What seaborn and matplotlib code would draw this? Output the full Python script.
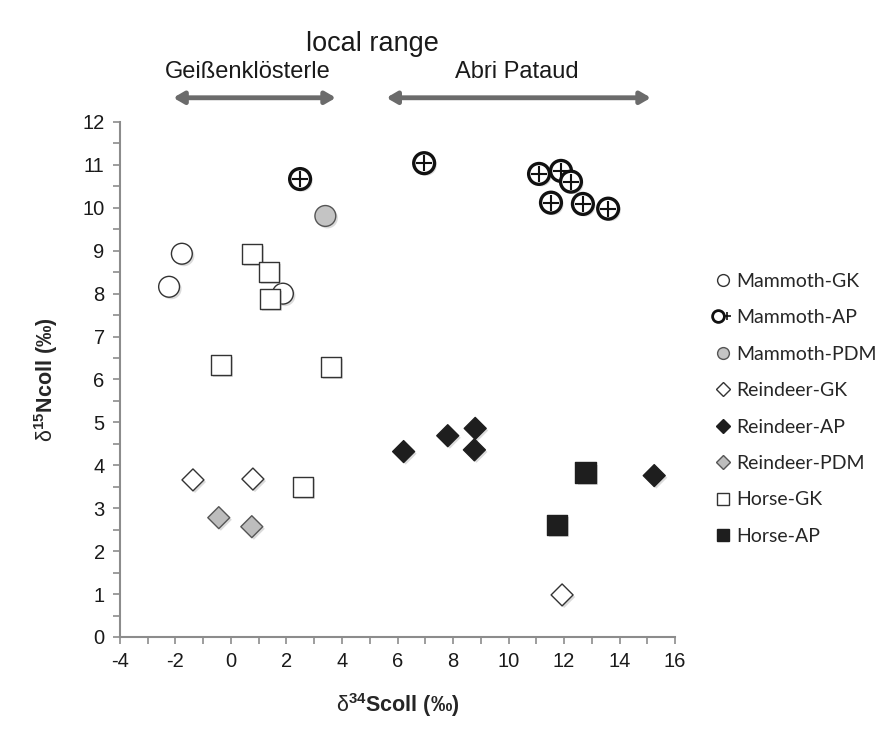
import numpy as np
import pandas as pd
import seaborn as sns
import matplotlib.pyplot as plt
import matplotlib.patheffects as pe
from matplotlib.lines import Line2D
from matplotlib.legend_handler import HandlerTuple
from matplotlib.ticker import MultipleLocator

# d34S (x) and d15N (y) values, one pair of lists per group
mammoth_gk_x = [-2.23, -1.77, 1.87]
mammoth_gk_y = [8.16, 8.93, 8.00]
mammoth_ap_x = [2.49, 6.96, 11.10, 11.89, 12.25, 11.53, 12.68, 13.59]
mammoth_ap_y = [10.67, 11.04, 10.79, 10.86, 10.61, 10.12, 10.09, 9.98]
mammoth_pdm_x = [3.40]
mammoth_pdm_y = [9.81]
reindeer_gk_x = [-1.37, 0.79, 11.93]
reindeer_gk_y = [3.66, 3.68, 0.98]
reindeer_ap_x = [6.22, 7.81, 8.80, 8.77, 15.25]
reindeer_ap_y = [4.32, 4.69, 4.86, 4.36, 3.76]
reindeer_pdm_x = [-0.44, 0.75]
reindeer_pdm_y = [2.78, 2.57]
horse_gk_x = [0.76, 1.37, 1.41, -0.36, 3.60, 2.59]
horse_gk_y = [8.93, 8.51, 7.88, 6.34, 6.29, 3.50]
horse_ap_x = [12.78, 11.74]
horse_ap_y = [3.83, 2.61]

groups = ["Mammoth-GK", "Mammoth-AP", "Mammoth-PDM", "Reindeer-GK",
          "Reindeer-AP", "Reindeer-PDM", "Horse-GK", "Horse-AP"]
xs = [mammoth_gk_x, mammoth_ap_x, mammoth_pdm_x, reindeer_gk_x,
      reindeer_ap_x, reindeer_pdm_x, horse_gk_x, horse_ap_x]
ys = [mammoth_gk_y, mammoth_ap_y, mammoth_pdm_y, reindeer_gk_y,
      reindeer_ap_y, reindeer_pdm_y, horse_gk_y, horse_ap_y]

# marker, face, edge, edge width
styles = {
    "Mammoth-GK": ("o", "white", "#333333", 1.0),
    "Mammoth-AP": ("o", "white", "#111111", 2.4),
    "Mammoth-PDM": ("o", "#c4c4c4", "#555555", 1.0),
    "Reindeer-GK": ("D", "white", "#333333", 1.0),
    "Reindeer-AP": ("D", "#1e1e1e", "#1e1e1e", 1.0),
    "Reindeer-PDM": ("D", "#bdbdbd", "#555555", 1.0),
    "Horse-GK": ("s", "white", "#333333", 1.0),
    "Horse-AP": ("s", "#1e1e1e", "#1e1e1e", 1.0),
}
sizes = {"o": 225, "D": 125, "s": 215}

df = pd.concat([pd.DataFrame({"d34S": x, "d15N": y, "group": g})
                for g, x, y in zip(groups, xs, ys)], ignore_index=True)

sns.set_style("white")
plt.rcParams["font.family"] = ["Liberation Sans", "DejaVu Sans"]
plt.rcParams["axes.unicode_minus"] = False
plt.rcParams["mathtext.fontset"] = "custom"
plt.rcParams["mathtext.rm"] = "Liberation Sans"
plt.rcParams["mathtext.bf"] = "Liberation Sans:bold"

fig = plt.figure(figsize=(8.86, 7.37), dpi=100)
ax = fig.add_axes([0.1354, 0.1357, 0.6265, 0.6988])

shadow = [pe.SimplePatchShadow(offset=(1.5, -1.5), shadow_rgbFace="#999999", alpha=0.35), pe.Normal()]

for g in groups:
    m, fc, ec, lw = styles[g]
    sub = df[df["group"] == g]
    sns.scatterplot(data=sub, x="d34S", y="d15N", marker=m, s=sizes[m],
                    color=fc, edgecolor=ec, linewidth=lw, ax=ax, zorder=3,
                    legend=False)
    ax.collections[-1].set_path_effects(shadow)
    if g == "Mammoth-AP":
        sns.scatterplot(data=sub, x="d34S", y="d15N", marker="+", s=120,
                        color="#111111", linewidth=1.5, ax=ax, zorder=4,
                        legend=False)

ax.set_xlim(-4, 16)
ax.set_ylim(0, 12)
ax.xaxis.set_major_locator(MultipleLocator(2))
ax.xaxis.set_minor_locator(MultipleLocator(1))
ax.yaxis.set_major_locator(MultipleLocator(1))
ax.yaxis.set_minor_locator(MultipleLocator(0.5))
for s in ["top", "right"]:
    ax.spines[s].set_visible(False)
for s in ["left", "bottom"]:
    ax.spines[s].set_color("#8c8c8c")
    ax.spines[s].set_linewidth(1.5)
ax.tick_params(which="both", direction="out", length=5, width=1.2,
               color="#8c8c8c", bottom=True, left=True)
ax.tick_params(which="major", labelsize=14.5, labelcolor="#1a1a1a", pad=6)

ax.set_xlabel(r"$\mathrm{δ}^{\mathbf{34}}$" + "Scoll (‰)", fontsize=15.5,
              fontweight="bold", labelpad=14)
ax.set_ylabel(r"$\mathrm{δ}^{\mathbf{15}}$" + "Ncoll (‰)", fontsize=15.5,
              fontweight="bold", labelpad=16)

# sampling-site ranges drawn above the plot
tr = ax.get_xaxis_transform()
arrow_kw = dict(arrowstyle="<|-|>,head_length=0.6,head_width=0.35",
                color="#6b6b6b", lw=3.5, shrinkA=0, shrinkB=0)
ax.annotate("", xy=(-2.08, 1.047), xytext=(3.78, 1.047), xycoords=tr,
            textcoords=tr, arrowprops=arrow_kw, annotation_clip=False)
ax.annotate("", xy=(5.6, 1.047), xytext=(15.13, 1.047), xycoords=tr,
            textcoords=tr, arrowprops=arrow_kw, annotation_clip=False)
ax.text(0.6, 1.098, "Geißenklösterle", transform=tr, ha="center",
        va="center", fontsize=17, color="#1a1a1a")
ax.text(10.3, 1.098, "Abri Pataud", transform=tr, ha="center",
        va="center", fontsize=17, color="#1a1a1a")
ax.text(5.1, 1.152, "local range", transform=tr, ha="center",
        va="center", fontsize=19.5, color="#1a1a1a")

# legend
handles = []
for g in groups:
    m, fc, ec, lw = styles[g]
    ms = 8.5 if m != "D" else 7.5
    h = Line2D([], [], linestyle="none", marker=m, markersize=ms,
               markerfacecolor=fc, markeredgecolor=ec,
               markeredgewidth=min(lw, 2.0))
    if g == "Mammoth-AP":
        h = (h, Line2D([], [], linestyle="none", marker="+", markersize=6,
                       color="#111111", markeredgewidth=1.2))
    handles.append(h)
fig.legend(handles, groups, loc="upper left", bbox_to_anchor=(0.795, 0.643),
           frameon=False, prop={"family": "Lato", "size": 14},
           handlelength=0.9, handletextpad=0.25, labelspacing=1.0,
           borderpad=0, handler_map={tuple: HandlerTuple(ndivide=None, pad=0)})

fig.savefig("out.png", dpi=100)
